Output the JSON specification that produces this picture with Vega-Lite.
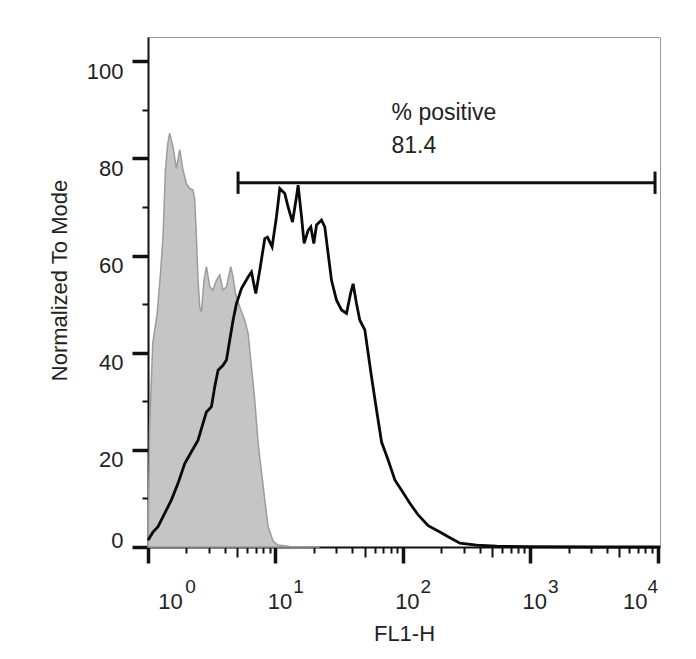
{
  "$schema": "https://vega.github.io/schema/vega-lite/v6.json",
  "width": 512,
  "height": 510,
  "autosize": {"type": "none"},
  "padding": {"left": 148, "top": 37, "right": 36, "bottom": 112},
  "background": "white",
  "config": {
    "view": {"stroke": "#9a9a9a", "strokeWidth": 1},
    "font": "Liberation Sans"
  },
  "resolve": {"axis": {"x": "independent"}},
  "datasets": {
    "control": [
      {"fl1": 1.0, "pct": 0},
      {"fl1": 1.012, "pct": 10},
      {"fl1": 1.03, "pct": 25},
      {"fl1": 1.09, "pct": 42},
      {"fl1": 1.18, "pct": 48},
      {"fl1": 1.25, "pct": 56},
      {"fl1": 1.311, "pct": 63.8},
      {"fl1": 1.37, "pct": 77.6},
      {"fl1": 1.428, "pct": 83},
      {"fl1": 1.48, "pct": 85.2},
      {"fl1": 1.571, "pct": 82.4},
      {"fl1": 1.671, "pct": 77.9},
      {"fl1": 1.774, "pct": 81.8},
      {"fl1": 1.883, "pct": 77.6},
      {"fl1": 2.002, "pct": 74.8},
      {"fl1": 2.125, "pct": 73.8},
      {"fl1": 2.256, "pct": 73.5},
      {"fl1": 2.327, "pct": 71.4},
      {"fl1": 2.399, "pct": 63.8},
      {"fl1": 2.47, "pct": 54.9},
      {"fl1": 2.547, "pct": 49.4},
      {"fl1": 2.627, "pct": 48.4},
      {"fl1": 2.753, "pct": 54.9},
      {"fl1": 2.874, "pct": 57.7},
      {"fl1": 3.051, "pct": 53.6},
      {"fl1": 3.239, "pct": 52.9},
      {"fl1": 3.444, "pct": 54.9},
      {"fl1": 3.656, "pct": 56.0},
      {"fl1": 3.881, "pct": 52.9},
      {"fl1": 4.127, "pct": 53.6},
      {"fl1": 4.461, "pct": 57.7},
      {"fl1": 4.651, "pct": 55.6},
      {"fl1": 4.857, "pct": 52.2},
      {"fl1": 5.25, "pct": 49.4},
      {"fl1": 5.745, "pct": 46.7},
      {"fl1": 6.1, "pct": 44.0},
      {"fl1": 6.486, "pct": 37.1},
      {"fl1": 6.884, "pct": 30.2},
      {"fl1": 7.307, "pct": 21.5},
      {"fl1": 7.771, "pct": 15.5},
      {"fl1": 8.25, "pct": 9.7},
      {"fl1": 8.755, "pct": 4.2},
      {"fl1": 9.583, "pct": 1.2},
      {"fl1": 10.49, "pct": 0.4},
      {"fl1": 12.97, "pct": 0.1},
      {"fl1": 22.3, "pct": 0}
    ],
    "sample": [
      {"fl1": 1.0, "pct": 1.4},
      {"fl1": 1.089, "pct": 3.0},
      {"fl1": 1.198, "pct": 4.2},
      {"fl1": 1.352, "pct": 6.9},
      {"fl1": 1.527, "pct": 9.7},
      {"fl1": 1.72, "pct": 13.1},
      {"fl1": 1.942, "pct": 17.2},
      {"fl1": 2.192, "pct": 19.6},
      {"fl1": 2.47, "pct": 22.0},
      {"fl1": 2.704, "pct": 25.5},
      {"fl1": 2.874, "pct": 27.8},
      {"fl1": 3.147, "pct": 28.9},
      {"fl1": 3.341, "pct": 33.0},
      {"fl1": 3.546, "pct": 36.4},
      {"fl1": 3.881, "pct": 37.4},
      {"fl1": 4.127, "pct": 38.5},
      {"fl1": 4.381, "pct": 42.6},
      {"fl1": 4.651, "pct": 46.7},
      {"fl1": 4.946, "pct": 50.1},
      {"fl1": 5.413, "pct": 53.2},
      {"fl1": 6.1, "pct": 55.6},
      {"fl1": 6.486, "pct": 56.6},
      {"fl1": 7.01, "pct": 52.2},
      {"fl1": 7.537, "pct": 57.0},
      {"fl1": 8.25, "pct": 63.5},
      {"fl1": 8.661, "pct": 63.8},
      {"fl1": 9.412, "pct": 61.8},
      {"fl1": 10.19, "pct": 68.0},
      {"fl1": 10.82, "pct": 73.8},
      {"fl1": 11.84, "pct": 72.8},
      {"fl1": 12.57, "pct": 70.0},
      {"fl1": 13.61, "pct": 66.9},
      {"fl1": 14.63, "pct": 72.1},
      {"fl1": 15.07, "pct": 74.5},
      {"fl1": 16.02, "pct": 68.0},
      {"fl1": 16.79, "pct": 62.5},
      {"fl1": 18.05, "pct": 65.2},
      {"fl1": 18.95, "pct": 65.9},
      {"fl1": 20.01, "pct": 62.5},
      {"fl1": 21.01, "pct": 66.3},
      {"fl1": 22.99, "pct": 67.3},
      {"fl1": 24.4, "pct": 65.9},
      {"fl1": 25.91, "pct": 60.4},
      {"fl1": 27.55, "pct": 54.9},
      {"fl1": 30.16, "pct": 50.8},
      {"fl1": 33.01, "pct": 48.8},
      {"fl1": 36.14, "pct": 48.1},
      {"fl1": 38.85, "pct": 52.2},
      {"fl1": 40.72, "pct": 54.2},
      {"fl1": 43.29, "pct": 50.1},
      {"fl1": 45.95, "pct": 46.7},
      {"fl1": 50.3, "pct": 44.7},
      {"fl1": 53.4, "pct": 39.9},
      {"fl1": 56.78, "pct": 35.0},
      {"fl1": 62.15, "pct": 28.2},
      {"fl1": 68.05, "pct": 21.6},
      {"fl1": 76.65, "pct": 17.9},
      {"fl1": 86.53, "pct": 13.8},
      {"fl1": 97.68, "pct": 11.7},
      {"fl1": 113.5, "pct": 9.0},
      {"fl1": 131.9, "pct": 6.6},
      {"fl1": 158.0, "pct": 4.4},
      {"fl1": 195.2, "pct": 3.1},
      {"fl1": 226.8, "pct": 2.1},
      {"fl1": 280.3, "pct": 0.8},
      {"fl1": 379.0, "pct": 0.4},
      {"fl1": 544.3, "pct": 0.15},
      {"fl1": 993, "pct": 0.05},
      {"fl1": 3524, "pct": 0},
      {"fl1": 10420, "pct": 0}
    ],
    "gate": [
      {"from": 5.09, "to": 9524, "level": 75}
    ],
    "gateEnds": [
      {"fl1": 5.09, "capLow": 72.7, "capHigh": 77.3},
      {"fl1": 9524, "capLow": 72.7, "capHigh": 77.3}
    ],
    "note": [
      {"fl1": 81.5, "pct": 91.6, "text": ["% positive", "81.4"]}
    ]
  },
  "layer": [
    {
      "data": {"name": "control"},
      "mark": {"type": "area", "fill": "#c4c5c4", "stroke": "#9c9c9c", "strokeWidth": 1.5, "fillOpacity": 1},
      "encoding": {
        "x": {
          "field": "fl1",
          "type": "quantitative",
          "scale": {"type": "log", "domain": [1, 10420], "nice": false},
          "axis": {
            "orient": "bottom",
            "values": [1, 2, 3, 4, 5, 6, 7, 8, 9, 10, 20, 30, 40, 50, 60, 70, 80, 90, 100, 200, 300, 400, 500, 600, 700, 800, 900, 1000, 2000, 3000, 4000, 5000, 6000, 7000, 8000, 9000, 10000],
            "labelExpr": "abs(log(datum.value)/LN10 - round(log(datum.value)/LN10)) < 0.001 ? '10' : ''",
            "labelFlush": false,
            "labelOverlap": false,
            "labelFontSize": 22,
            "labelColor": "#222",
            "labelBaseline": "top",
            "labelPadding": 28,
            "labelOffset": {"condition": [{"test": "datum.value == 1", "value": 22}, {"test": "datum.value == 10000", "value": -23}], "value": 4},
            "tickSize": {"condition": [{"test": "abs(log(datum.value)/LN10 - round(log(datum.value)/LN10)) < 0.001", "value": 16}, {"test": "abs(log(datum.value/5)/LN10 - round(log(datum.value/5)/LN10)) < 0.001", "value": 10}], "value": 6},
            "tickWidth": {"condition": {"test": "abs(log(datum.value)/LN10 - round(log(datum.value)/LN10)) < 0.001", "value": 3.5}, "value": 2},
            "tickColor": "#111",
            "domainColor": "#111",
            "domainWidth": 2,
            "grid": false,
            "title": "FL1-H",
            "titleFontSize": 22,
            "titleFontWeight": "normal",
            "titleColor": "#222",
            "titleBaseline": "alphabetic",
            "titleY": 93.7
          }
        },
        "y": {
          "field": "pct",
          "type": "quantitative",
          "scale": {"domain": [0, 105], "nice": false},
          "axis": {
            "values": [0, 5, 10, 15, 20, 25, 30, 35, 40, 45, 50, 55, 60, 65, 70, 75, 80, 85, 90, 95, 100],
            "labelExpr": "datum.value % 20 == 0 ? datum.label : ''",
            "labelFlush": false,
            "labelOverlap": false,
            "labelFontSize": 22,
            "labelColor": "#222",
            "labelPadding": 9,
            "labelBaseline": {"condition": {"test": "datum.value == 0", "value": "alphabetic"}, "value": "top"},
            "tickSize": {"condition": {"test": "datum.value % 20 == 0", "value": 16}, "value": 6},
            "tickWidth": {"condition": {"test": "datum.value % 20 == 0", "value": 3.5}, "value": 2},
            "tickColor": "#111",
            "domainColor": "#111",
            "domainWidth": 2,
            "grid": false,
            "title": "Normalized To Mode",
            "titleFontSize": 22,
            "titleFontWeight": "normal",
            "titleColor": "#222",
            "titleAngle": -90,
            "titleAlign": "center",
            "titleBaseline": "alphabetic",
            "titleX": -81.6,
            "titleY": 243
          }
        }
      }
    },
    {
      "data": {"name": "sample"},
      "mark": {"type": "line", "color": "#0a0a0a", "strokeWidth": 2.8},
      "encoding": {
        "x": {
          "field": "fl1",
          "type": "quantitative",
          "axis": {
            "orient": "bottom",
            "values": [1, 10, 100, 1000, 10000],
            "labelExpr": "'' + round(log(datum.value)/LN10)",
            "labelFlush": false,
            "labelOverlap": false,
            "labelFontSize": 19,
            "labelColor": "#222",
            "labelBaseline": "top",
            "labelPadding": 30,
            "labelOffset": {"condition": [{"test": "datum.value == 1", "value": 42}, {"test": "datum.value == 10000", "value": -5.5}], "value": 22.5},
            "ticks": false,
            "domain": false,
            "grid": false,
            "title": null
          }
        },
        "y": {"field": "pct", "type": "quantitative"}
      }
    },
    {
      "data": {"name": "gate"},
      "mark": {"type": "rule", "color": "#111", "strokeWidth": 3},
      "encoding": {
        "x": {"field": "from", "type": "quantitative", "axis": null},
        "x2": {"field": "to"},
        "y": {"field": "level", "type": "quantitative"}
      }
    },
    {
      "data": {"name": "gateEnds"},
      "mark": {"type": "rule", "color": "#111", "strokeWidth": 3},
      "encoding": {
        "x": {"field": "fl1", "type": "quantitative", "axis": null},
        "y": {"field": "capLow", "type": "quantitative"},
        "y2": {"field": "capHigh"}
      }
    },
    {
      "data": {"name": "note"},
      "mark": {"type": "text", "align": "left", "baseline": "top", "fontSize": 23, "lineHeight": 33, "color": "#222"},
      "encoding": {
        "x": {"field": "fl1", "type": "quantitative", "axis": null},
        "y": {"field": "pct", "type": "quantitative"},
        "text": {"field": "text"}
      }
    }
  ]
}
